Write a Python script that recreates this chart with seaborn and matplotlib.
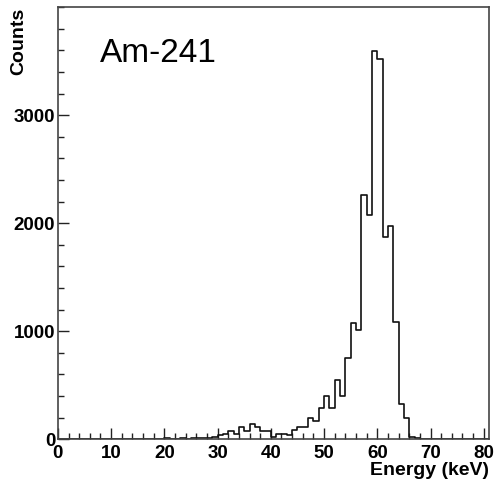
import numpy as np
import pandas as pd
import seaborn as sns
import matplotlib
matplotlib.use("Agg")
import matplotlib.pyplot as plt
from matplotlib.ticker import MultipleLocator, FixedLocator

# Am-241 energy spectrum, 1 keV bins from 0 to 81 keV
bin_low_kev = list(range(0, 81))
counts = [
    0, 0, 0, 0, 1, 0, 1, 0, 1, 2, 1, 2, 1, 2,            # 0-13
    3, 4, 3, 5, 6, 4, 8, 5, 6, 9, 7, 10, 12, 10, 15,     # 14-28
    25, 40, 52, 80, 48, 117, 80, 145, 118, 80, 80,       # 29-39
    18, 52, 45, 35, 85, 110, 110, 200, 170, 285,         # 40-49
    400, 285, 545, 398, 755, 1079, 1011, 2262, 2078,     # 50-58
    3592, 3518, 1877, 1979, 1088, 330, 194, 25, 12, 6,   # 59-68
    4, 3, 2, 2, 1, 2, 1, 1, 0, 1, 0, 1,                  # 69-80
]
y_major_ticks = [0, 1000, 2000, 3000]
title_text = "Am-241"
x_label = "Energy (keV)"
y_label = "Counts"

df = pd.DataFrame({
    "energy": np.array(bin_low_kev) + 0.5,
    "counts": counts,
})

sns.set_style("ticks")
plt.rcParams["font.family"] = ["Liberation Sans", "DejaVu Sans"]

fig = plt.figure(figsize=(4.95, 4.84), dpi=100)
ax = fig.add_axes([0.117, 0.0924, 0.871, 0.8926])

sns.histplot(data=df, x="energy", weights="counts", binwidth=1,
             binrange=(0, 81), element="step", fill=False,
             color="#111111", linewidth=1.2, ax=ax)

ax.set_xlim(0, 81)
ax.set_ylim(0, 4000)

ax.xaxis.set_major_locator(MultipleLocator(10))
ax.xaxis.set_minor_locator(MultipleLocator(2))
ax.yaxis.set_major_locator(FixedLocator(y_major_ticks))
ax.yaxis.set_minor_locator(MultipleLocator(200))

ax.tick_params(which="both", direction="in", top=False, right=False,
               color="#222222", width=1.0, labelcolor="black")
ax.tick_params(which="major", length=8)
ax.tick_params(which="minor", length=4)
ax.tick_params(axis="x", which="major", pad=4, labelsize=13.5)
ax.tick_params(axis="y", which="major", pad=2, labelsize=13.5)
for lab in ax.get_xticklabels() + ax.get_yticklabels():
    lab.set_fontweight("bold")

for sp in ax.spines.values():
    sp.set_visible(True)
    sp.set_color("#444444")
    sp.set_linewidth(1.2)

ax.set_xlabel(x_label, fontsize=14, fontweight="bold", loc="right",
              labelpad=0, color="black")
ax.set_ylabel(y_label, fontsize=14, fontweight="bold", loc="top",
              color="black")
ax.yaxis.set_label_coords(-0.072, 1.0)

ax.text(0.097, 0.873, title_text, transform=ax.transAxes, fontsize=24,
        va="baseline", ha="left", color="black")

fig.savefig("out.png", dpi=100)
